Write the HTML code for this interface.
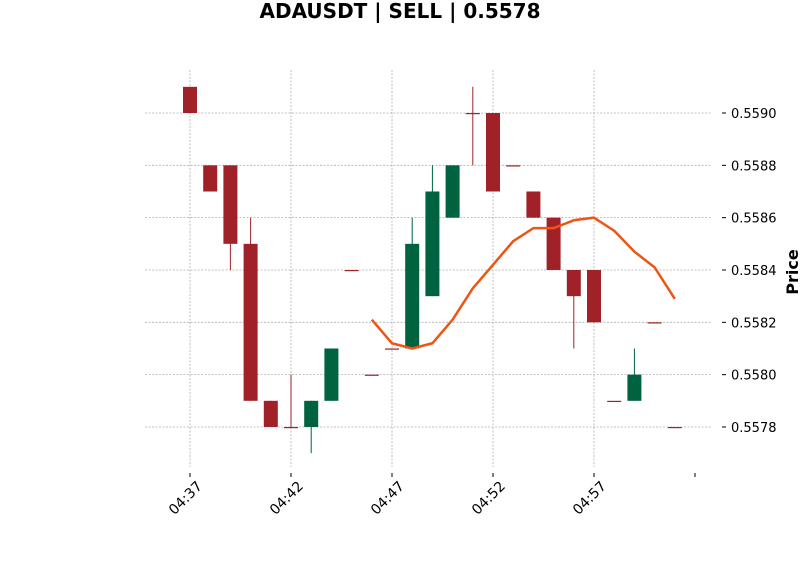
<!DOCTYPE html>
<html><head><meta charset="utf-8"><style>
body{margin:0;background:#fff;}
svg{font-family:"DejaVu Sans","Liberation Sans",sans-serif;}
</style></head><body>
<svg id="chart" width="800" height="575" xmlns="http://www.w3.org/2000/svg">
<text x="400" y="18" text-anchor="middle" font-size="20" font-weight="bold">ADAUSDT | SELL | 0.5578</text>
<text transform="translate(798,272) rotate(-90)" text-anchor="middle" font-size="16" font-weight="bold">Price</text>
<g id="grid"></g><g id="marks"></g><g id="axes"></g>
</svg>
<script>
const times=["04:37","04:38","04:39","04:40","04:41","04:42","04:43","04:44","04:45","04:46","04:47","04:48","04:49","04:50","04:51","04:52","04:53","04:54","04:55","04:56","04:57","04:58","04:59","05:00","05:01"];
const opens=[0.5591,0.5588,0.5588,0.5585,0.5579,0.5578,0.5578,0.5579,0.5584,0.5580,0.5581,0.5581,0.5583,0.5586,0.5590,0.5590,0.5588,0.5587,0.5586,0.5584,0.5584,0.5579,0.5579,0.5582,0.5578];
const closes=[0.5590,0.5587,0.5585,0.5579,0.5578,0.5578,0.5579,0.5581,0.5584,0.5580,0.5581,0.5585,0.5587,0.5588,0.5590,0.5587,0.5588,0.5586,0.5584,0.5583,0.5582,0.5579,0.5580,0.5582,0.5578];
const highs=[0.5591,0.5588,0.5588,0.5586,0.5579,0.5580,0.5579,0.5581,0.5584,0.5580,0.5581,0.5586,0.5588,0.5588,0.5591,0.5590,0.5588,0.5587,0.5586,0.5584,0.5584,0.5579,0.5581,0.5582,0.5578];
const lows=[0.5590,0.5587,0.5584,0.5579,0.5578,0.5578,0.5577,0.5579,0.5584,0.5580,0.5581,0.5581,0.5583,0.5586,0.5588,0.5587,0.5588,0.5586,0.5584,0.5581,0.5582,0.5579,0.5579,0.5582,0.5578];
const maStart=9;
const maValues=[0.55821,0.55812,0.55810,0.55812,0.55821,0.55833,0.55842,0.55851,0.55856,0.55856,0.55859,0.55860,0.55855,0.55847,0.55841,0.55829];
const yTicks=[0.5578,0.5580,0.5582,0.5584,0.5586,0.5588,0.5590];
const xTickIdx=[0,5,10,15,20,25];
const xTickLabels=["04:37","04:42","04:47","04:52","04:57",""];
const NS="http://www.w3.org/2000/svg";
const xs=i=>190+i*20.2;
const ys=v=>113+(0.5590-v)/0.0002*52.33;
function mk(p,t,a){const e=document.createElementNS(NS,t);for(const k in a)e.setAttribute(k,a[k]);document.getElementById(p).appendChild(e);return e;}
yTicks.forEach((v,i)=>{
 const l=mk('grid','line',{x1:145,x2:712,y1:ys(v),y2:ys(v),stroke:'#b0b0b0','stroke-width':0.8,'stroke-dasharray':'2,1.5'});
 
 
 mk('axes','line',{x1:722,x2:726,y1:ys(v),y2:ys(v),stroke:'#000'});
 const t=mk('axes','text',{x:731,y:ys(v)+5,'font-size':13});t.textContent=v.toFixed(4);
 
 
});
xTickIdx.forEach((ix,i)=>{
 const x=xs(ix);
 if(i<5){const l=mk('grid','line',{x1:x,x2:x,y1:70,y2:467,stroke:'#b0b0b0','stroke-width':0.8,'stroke-dasharray':'2,1.5'});
 
 }
 mk('axes','line',{x1:x,x2:x,y1:473,y2:477,stroke:'#000'});
 if(xTickLabels[i]){const tx=x+13,ty=487;const t=mk('axes','text',{x:tx,y:ty,'font-size':14,'text-anchor':'end',transform:`rotate(-45 ${tx} ${ty})`});t.textContent=xTickLabels[i];
 
 }
});
times.forEach((tm,i)=>{
 const up=closes[i]>opens[i];const c=up?'#006340':'#a02128';const x=xs(i);
 const w=mk('marks','line',{x1:x,x2:x,y1:ys(highs[i]),y2:ys(lows[i]),stroke:c,'stroke-width':1});
 
 
 const top=ys(Math.max(opens[i],closes[i])),bot=ys(Math.min(opens[i],closes[i]));
 const r=mk('marks','rect',{x:x-7,y:top,width:14,height:Math.max(bot-top,1.2),fill:c});
 
 
});
const pts=maValues.map((v,i)=>xs(maStart+i)+','+ys(v)).join(' ');
const pl=mk('marks','polyline',{points:pts,fill:'none',stroke:'#ee5514','stroke-width':2.5,'stroke-linejoin':'round'});


</script>
</body></html>
